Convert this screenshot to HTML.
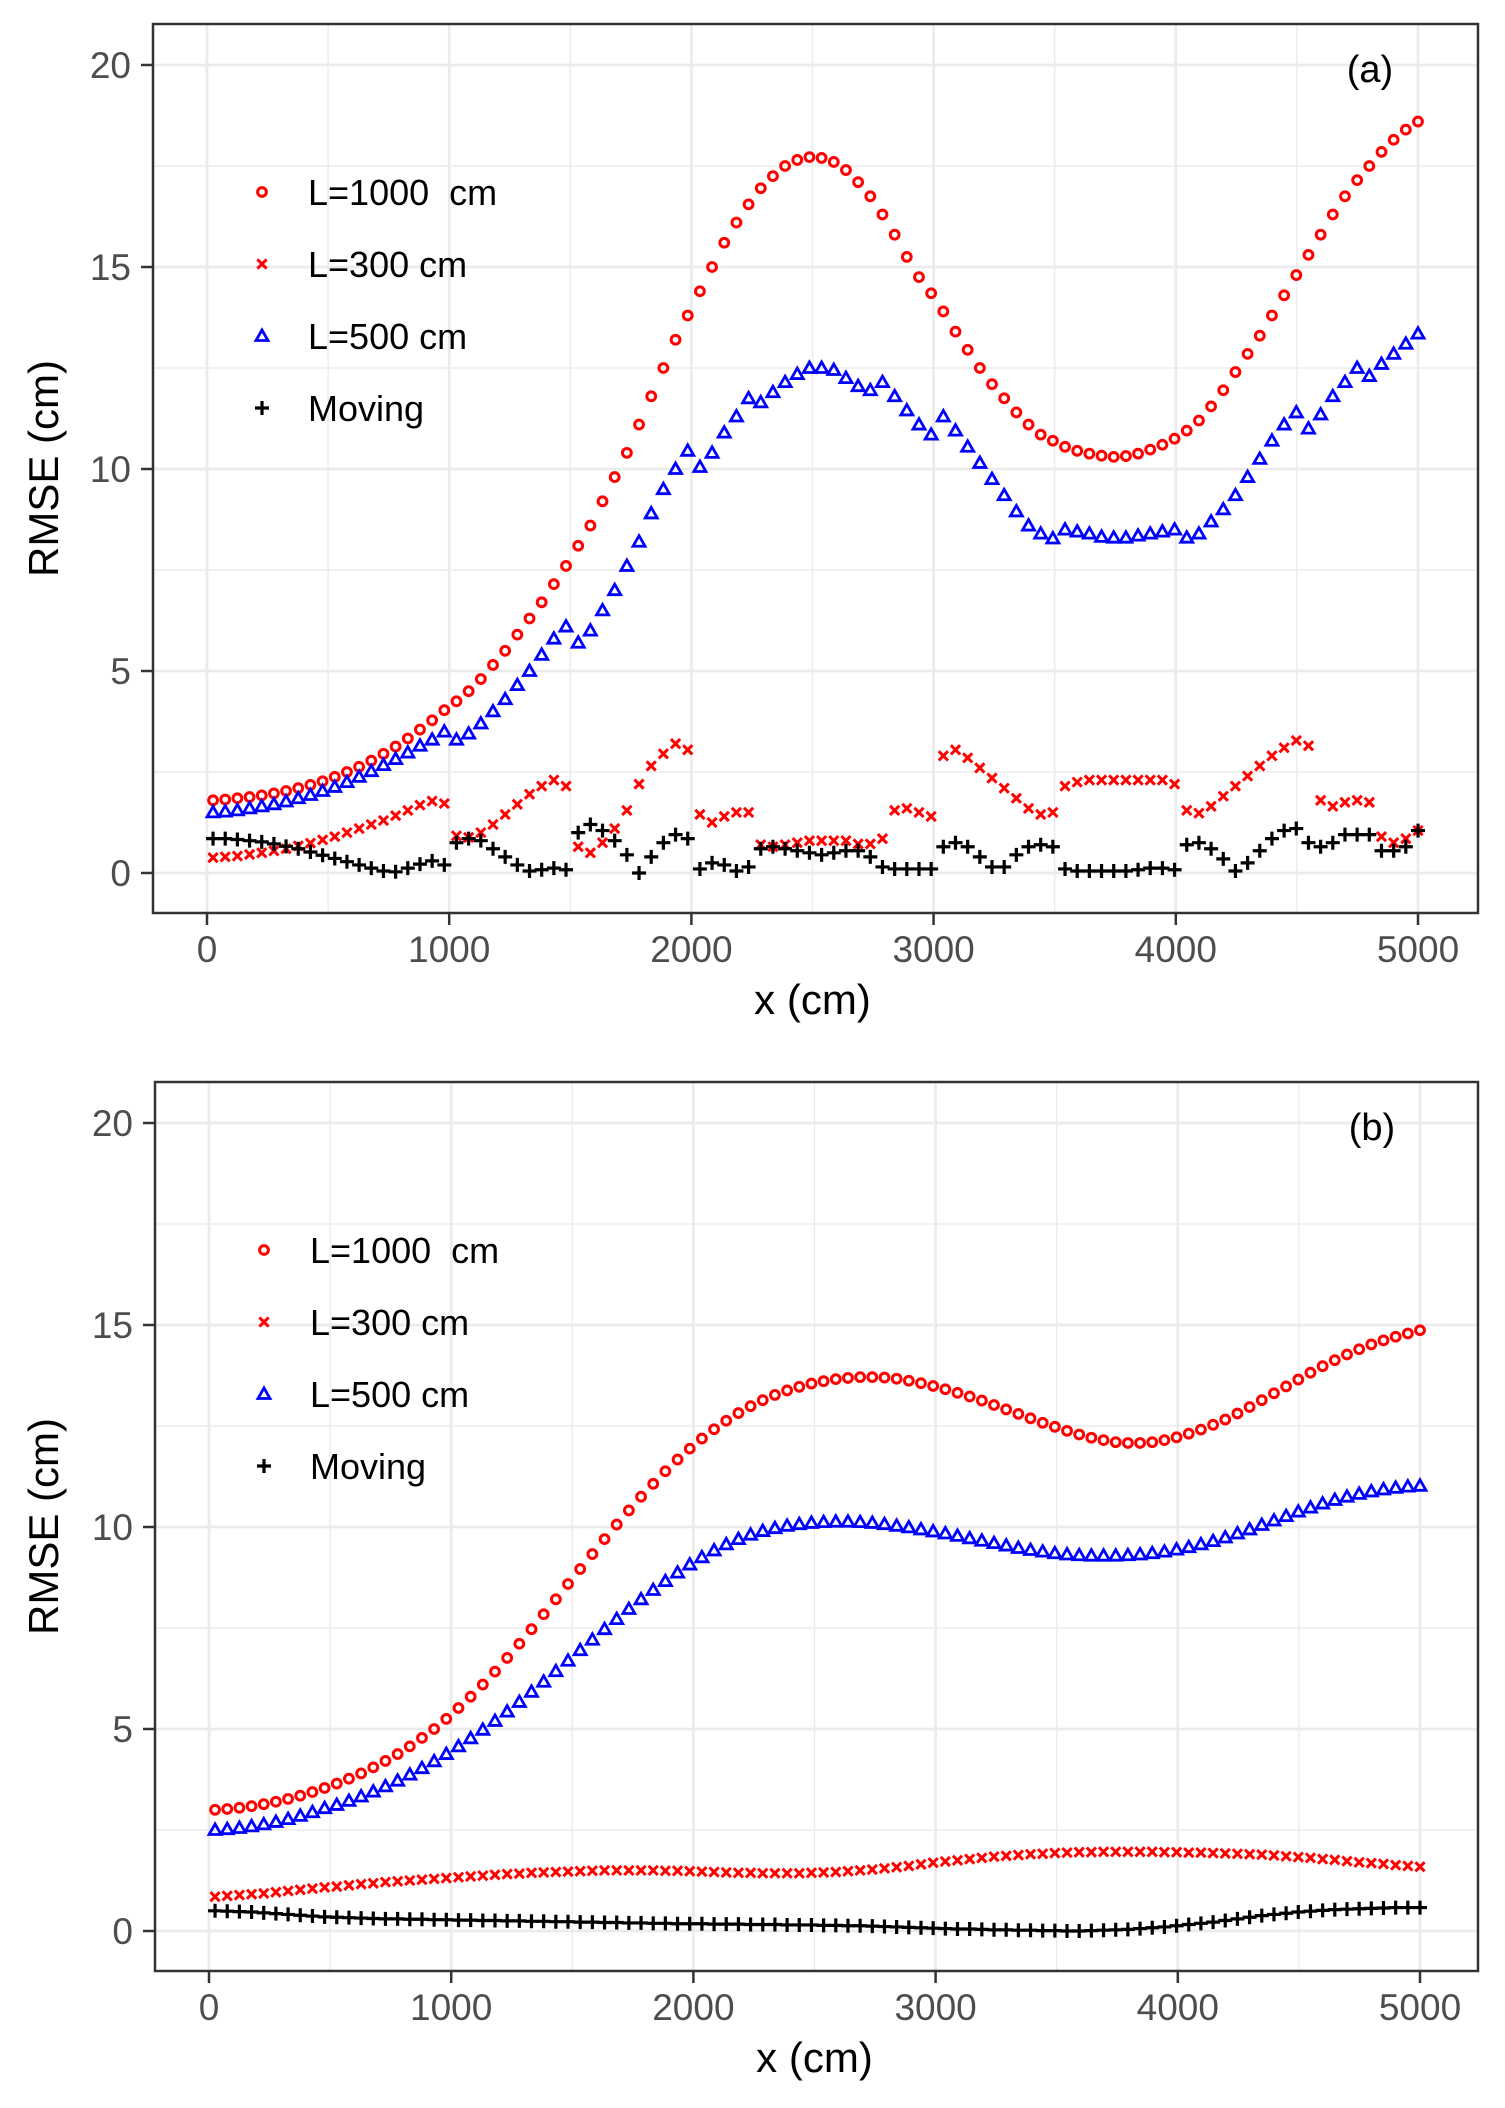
<!DOCTYPE html>
<html><head><meta charset="utf-8"><style>
html,body{margin:0;padding:0;background:#fff;}
svg{display:block;font-family:"Liberation Sans",Arial,sans-serif;}
</style></head><body>
<svg id="chart" width="1505" height="2108" viewBox="0 0 1505 2108"></svg>
<script>
const xTicks = [0,1000,2000,3000,4000,5000];
const yTicks = [0,5,10,15,20];
const seriesNames = ["L=1000  cm","L=300 cm","L=500 cm","Moving"];
const panelLabels = ["(a)","(b)"];

const a_L1000 = [1.80,1.82,1.85,1.88,1.92,1.97,2.03,2.10,2.18,2.27,
2.38,2.50,2.63,2.78,2.95,3.13,3.33,3.55,3.78,4.03,
4.25,4.50,4.80,5.15,5.50,5.90,6.30,6.70,7.15,7.60,
8.10,8.60,9.20,9.80,10.40,11.10,11.80,12.50,13.20,13.80,
14.40,15.00,15.60,16.10,16.55,16.95,17.25,17.50,17.65,17.72,
17.70,17.60,17.40,17.10,16.75,16.30,15.80,15.25,14.75,14.35,
13.90,13.40,12.95,12.50,12.10,11.75,11.40,11.10,10.85,10.70,
10.55,10.45,10.38,10.33,10.30,10.32,10.38,10.48,10.60,10.75,
10.95,11.20,11.55,11.95,12.40,12.85,13.30,13.80,14.30,14.80,
15.30,15.80,16.30,16.75,17.15,17.50,17.85,18.15,18.40,18.60];
const a_L300 = [0.38,0.40,0.42,0.46,0.50,0.55,0.60,0.67,0.74,0.82,
0.90,1.00,1.10,1.20,1.30,1.42,1.55,1.68,1.78,1.72,
0.92,0.88,1.00,1.20,1.45,1.70,1.95,2.15,2.30,2.15,
0.65,0.50,0.75,1.10,1.55,2.20,2.65,2.95,3.20,3.05,
1.45,1.25,1.40,1.50,1.50,0.70,0.65,0.70,0.75,0.80,
0.80,0.80,0.80,0.72,0.72,0.85,1.55,1.60,1.50,1.40,
2.90,3.05,2.85,2.60,2.35,2.10,1.85,1.60,1.45,1.50,
2.15,2.25,2.30,2.30,2.30,2.30,2.30,2.30,2.30,2.20,
1.55,1.48,1.65,1.90,2.15,2.40,2.65,2.90,3.10,3.28,
3.15,1.80,1.65,1.75,1.80,1.75,0.90,0.75,0.85,1.05];
const a_L500 = [1.50,1.52,1.55,1.60,1.65,1.70,1.77,1.85,1.93,2.03,
2.13,2.25,2.38,2.52,2.67,2.82,2.98,3.15,3.30,3.50,
3.30,3.45,3.70,4.00,4.30,4.65,5.00,5.40,5.80,6.10,
5.70,6.00,6.50,7.00,7.60,8.20,8.90,9.50,10.00,10.45,
10.05,10.40,10.90,11.30,11.75,11.65,11.90,12.15,12.35,12.50,
12.50,12.45,12.25,12.05,11.95,12.15,11.80,11.45,11.10,10.85,
11.30,10.95,10.55,10.15,9.75,9.35,8.95,8.60,8.40,8.28,
8.50,8.45,8.40,8.32,8.30,8.30,8.35,8.40,8.45,8.50,
8.30,8.40,8.70,9.00,9.35,9.80,10.25,10.70,11.10,11.40,
11.00,11.35,11.80,12.15,12.50,12.30,12.60,12.85,13.10,13.35];
const a_Moving = [0.85,0.85,0.83,0.80,0.77,0.72,0.66,0.60,0.52,0.44,
0.36,0.28,0.20,0.12,0.05,0.03,0.12,0.22,0.30,0.20,
0.75,0.85,0.80,0.60,0.40,0.20,0.05,0.08,0.12,0.08,
1.00,1.20,1.05,0.80,0.45,0.00,0.40,0.75,0.95,0.85,
0.10,0.25,0.20,0.05,0.15,0.60,0.65,0.60,0.55,0.50,
0.45,0.50,0.55,0.55,0.40,0.15,0.10,0.10,0.10,0.10,
0.65,0.75,0.65,0.40,0.15,0.15,0.45,0.65,0.70,0.65,
0.10,0.05,0.05,0.05,0.05,0.05,0.08,0.12,0.12,0.08,
0.70,0.75,0.60,0.35,0.05,0.25,0.55,0.85,1.05,1.10,
0.75,0.65,0.75,0.95,0.95,0.95,0.55,0.55,0.65,1.05];

const b_L1000 = [3.00,3.02,3.05,3.09,3.14,3.20,3.27,3.35,3.44,3.54,
3.65,3.77,3.90,4.05,4.21,4.38,4.57,4.78,5.00,5.25,
5.52,5.80,6.10,6.42,6.76,7.11,7.47,7.84,8.21,8.59,
8.96,9.33,9.70,10.06,10.41,10.75,11.07,11.38,11.67,11.94,
12.19,12.42,12.63,12.82,12.99,13.14,13.27,13.38,13.47,13.55,
13.61,13.66,13.69,13.71,13.71,13.70,13.67,13.62,13.56,13.49,
13.41,13.32,13.23,13.13,13.02,12.91,12.80,12.69,12.58,12.48,
12.38,12.29,12.21,12.15,12.10,12.08,12.08,12.10,12.15,12.22,
12.31,12.41,12.53,12.66,12.81,12.97,13.14,13.31,13.48,13.65,
13.82,13.98,14.13,14.27,14.40,14.52,14.62,14.71,14.79,14.87];
const b_L300 = [0.85,0.87,0.89,0.91,0.93,0.96,0.99,1.02,1.05,1.08,
1.10,1.13,1.16,1.18,1.21,1.23,1.25,1.27,1.29,1.31,
1.33,1.35,1.37,1.39,1.41,1.42,1.44,1.45,1.46,1.47,
1.48,1.49,1.50,1.50,1.50,1.50,1.50,1.49,1.49,1.48,
1.47,1.46,1.45,1.44,1.44,1.43,1.43,1.43,1.43,1.44,
1.45,1.46,1.48,1.50,1.52,1.55,1.58,1.61,1.65,1.69,
1.72,1.75,1.78,1.81,1.84,1.86,1.88,1.90,1.91,1.93,
1.94,1.95,1.95,1.96,1.96,1.96,1.96,1.96,1.95,1.95,
1.94,1.94,1.93,1.92,1.91,1.90,1.89,1.87,1.85,1.83,
1.81,1.78,1.76,1.73,1.70,1.68,1.66,1.63,1.61,1.59];
const b_L500 = [2.50,2.52,2.55,2.59,2.64,2.70,2.77,2.85,2.94,3.04,
3.12,3.22,3.33,3.45,3.58,3.72,3.87,4.03,4.20,4.38,
4.57,4.77,4.98,5.20,5.43,5.67,5.92,6.17,6.43,6.69,
6.95,7.21,7.47,7.72,7.97,8.21,8.44,8.66,8.87,9.07,
9.25,9.42,9.57,9.70,9.81,9.90,9.97,10.03,10.07,10.10,
10.12,10.13,10.13,10.12,10.10,10.07,10.03,9.99,9.94,9.89,
9.84,9.78,9.72,9.66,9.60,9.54,9.48,9.43,9.39,9.35,
9.32,9.30,9.29,9.29,9.29,9.30,9.32,9.35,9.39,9.44,
9.50,9.57,9.65,9.74,9.84,9.94,10.05,10.16,10.27,10.38,
10.48,10.58,10.67,10.75,10.82,10.88,10.93,10.97,11.00,11.02];
const b_Moving = [0.50,0.49,0.48,0.47,0.45,0.43,0.41,0.39,0.37,0.35,
0.34,0.33,0.32,0.31,0.30,0.30,0.29,0.29,0.28,0.28,
0.27,0.27,0.26,0.26,0.25,0.25,0.24,0.24,0.23,0.23,
0.22,0.22,0.21,0.21,0.20,0.20,0.19,0.19,0.18,0.18,
0.18,0.17,0.17,0.17,0.16,0.16,0.16,0.15,0.15,0.15,
0.14,0.14,0.13,0.13,0.12,0.11,0.10,0.09,0.08,0.07,
0.06,0.05,0.05,0.04,0.03,0.03,0.02,0.02,0.01,0.01,
0.00,0.00,0.01,0.02,0.03,0.04,0.06,0.08,0.10,0.13,
0.16,0.19,0.22,0.26,0.30,0.34,0.38,0.41,0.44,0.47,
0.49,0.51,0.53,0.54,0.55,0.56,0.57,0.58,0.58,0.58];
const xStart = 25, xEnd = 5000;

const NS = "http://www.w3.org/2000/svg";
const svg = document.getElementById("chart");
function mk(tag, attrs, parent){ const e=document.createElementNS(NS,tag); for(const k in attrs) e.setAttribute(k,attrs[k]); (parent||svg).appendChild(e); return e; }

function marker(g, kind, cx, cy){
  let e;
  if(kind===0){ e=mk("circle",{cx:cx,cy:cy,r:4.4,fill:"none",stroke:"#ff0000","stroke-width":3},g); }
  else if(kind===1){ const s=4.6; e=mk("path",{d:`M${cx-s},${cy-s}L${cx+s},${cy+s}M${cx-s},${cy+s}L${cx+s},${cy-s}`,stroke:"#ff0000","stroke-width":3,fill:"none"},g); }
  else if(kind===2){ const s=6; e=mk("path",{d:`M${cx},${cy-s}L${cx+s},${cy+s*0.75}L${cx-s},${cy+s*0.75}Z`,stroke:"#0000ff","stroke-width":2.8,fill:"none"},g); }
  else { const s=7; e=mk("path",{d:`M${cx-s},${cy}L${cx+s},${cy}M${cx},${cy-s}L${cx},${cy+s}`,stroke:"#000","stroke-width":3.2,fill:"none"},g); }
  return e;
}

function panel(idx, data, dx, dy){
  const left=153+dx, right=1478, top=24+dy, bottom=913+dy;
  const x0=207+dx, x5000=1418+dx, y0=873+dy, y20=65+dy;
  const X=v=>x0+(x5000-x0)*v/5000;
  const Y=v=>y0+(y20-y0)*v/20;
  const g=mk("g",{});
  
  
  for(let v=500; v<=5500; v+=1000){ const px=X(v); if(px<right) mk("line",{x1:px,x2:px,y1:top,y2:bottom,stroke:"#ebebeb","stroke-width":1.4},g); }
  for(let v=-2.5; v<=22.5; v+=5){ const py=Y(v); if(py>top&&py<bottom) mk("line",{x1:left,x2:right,y1:py,y2:py,stroke:"#ebebeb","stroke-width":1.4},g); }
  xTicks.forEach(v=>{ const px=X(v); const l=mk("line",{x1:px,x2:px,y1:top,y2:bottom,stroke:"#ebebeb","stroke-width":2.7},g);
    
     });
  yTicks.forEach(v=>{ const py=Y(v); const l=mk("line",{x1:left,x2:right,y1:py,y2:py,stroke:"#ebebeb","stroke-width":2.7},g);
    
     });
  const n=data[0].length;
  data.forEach((arr,si)=>{
    const sg=mk("g",{},g);
    
    
    arr.forEach((v,i)=>{ const xv=xStart+(xEnd-xStart)*i/(n-1); const m=marker(sg,si,X(xv),Y(v));
      
       });
  });
  const fr=mk("rect",{x:left,y:top,width:right-left,height:bottom-top,fill:"none",stroke:"#333","stroke-width":2.5},g);
  
  
  xTicks.forEach(v=>{ const px=X(v); mk("line",{x1:px,x2:px,y1:bottom,y2:bottom+12,stroke:"#333","stroke-width":2.5},g);
    const t=mk("text",{x:px,y:bottom+49,"text-anchor":"middle","font-size":37,fill:"#4d4d4d"},g); t.textContent=v;
    
     });
  yTicks.forEach(v=>{ const py=Y(v); mk("line",{x1:left-12,x2:left,y1:py,y2:py,stroke:"#333","stroke-width":2.5},g);
    const t=mk("text",{x:left-22,y:py+13,"text-anchor":"end","font-size":37,fill:"#4d4d4d"},g); t.textContent=v;
    
     });
  const xt=mk("text",{x:(x0+x5000)/2,y:1014+dy,"text-anchor":"middle","font-size":42,fill:"#000"},g); xt.textContent="x (cm)";
  
  
  const yt=mk("text",{x:0,y:0,"text-anchor":"middle","font-size":42,fill:"#000",transform:`translate(58,${(top+bottom)/2}) rotate(-90)`},g); yt.textContent="RMSE (cm)";
  
  
  const pl=mk("text",{x:1370+dx,y:82+dy,"text-anchor":"middle","font-size":38,fill:"#000"},g); pl.textContent=panelLabels[idx];
  
  
  const lg=mk("g",{},g);
  
  
  seriesNames.forEach((nm,si)=>{ const ly=192+72*si+dy;
    const eg=mk("g",{},lg);
    
    
    marker(eg,si,262+dx,ly);
    const t=mk("text",{x:308+dx,y:ly+13,"font-size":36,fill:"#000"},eg); t.textContent=nm; t.setAttribute("xml:space","preserve"); t.style.whiteSpace="pre"; });
}
panel(0,[a_L1000,a_L300,a_L500,a_Moving],0,0);
panel(1,[b_L1000,b_L300,b_L500,b_Moving],2,1058);
</script>
</body></html>
